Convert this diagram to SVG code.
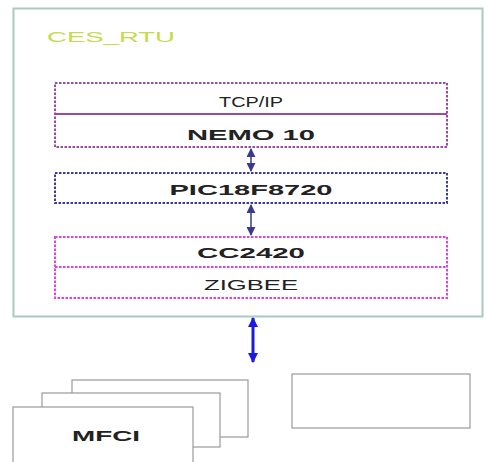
<svg xmlns="http://www.w3.org/2000/svg" width="489" height="462" viewBox="0 0 489 462">
<style>
text{font-family:"Liberation Sans",Arial,sans-serif;font-size:15.5px;text-anchor:middle;fill:#222}
.b{font-weight:bold}
.lay{fill:none;stroke-width:2;stroke-dasharray:2.5 1.5}
.card{fill:#fff;stroke:#999;stroke-width:1.2}
</style>
<defs>
<marker id="ah" viewBox="0 0 10 10" refX="9" refY="5" markerWidth="6" markerHeight="6" orient="auto-start-reverse"><path d="M0,0 L10,5 L0,10 z" fill="#3a3a8a"/></marker>
<marker id="bh" viewBox="0 0 10 10" refX="9" refY="5" markerWidth="3.5" markerHeight="3.5" orient="auto-start-reverse"><path d="M0,0 L10,5 L0,10 z" fill="#1a1ae0"/></marker>
</defs>
<rect width="489" height="462" fill="#fff"/>
<g id="ces_rtu">
<rect x="13.5" y="8.5" width="469" height="308" fill="#fff" stroke="#a9c9c1" stroke-width="2"/>
<text x="47" y="42" style="text-anchor:start;fill:#c2dc4a;font-size:14px" textLength="128" lengthAdjust="spacingAndGlyphs">CES_RTU</text>
</g>
<g id="tcpip_nemo">
<rect class="lay" x="55" y="83" width="392" height="64" stroke="#9a4aa0"/>
<line x1="55" y1="114" x2="447" y2="114" stroke="#9a4aa0" stroke-width="2"/>
<text x="251" y="107" textLength="64" lengthAdjust="spacingAndGlyphs">TCP/IP</text>
<text class="b" x="251" y="140" textLength="128" lengthAdjust="spacingAndGlyphs">NEMO 10</text>
</g>
<g id="pic">
<rect class="lay" x="55" y="173" width="392" height="30" stroke="#3a3a9a"/>
<text class="b" x="251" y="195" textLength="163" lengthAdjust="spacingAndGlyphs">PIC18F8720</text>
</g>
<g id="cc2420_zigbee">
<rect class="lay" x="55" y="237" width="392" height="61" stroke="#e040e0"/>
<line class="lay" x1="55" y1="267" x2="447" y2="267" stroke="#e040e0"/>
<text class="b" x="251" y="258" textLength="108" lengthAdjust="spacingAndGlyphs">CC2420</text>
<text x="251" y="290" textLength="94" lengthAdjust="spacingAndGlyphs">ZIGBEE</text>
</g>
<g id="mfci">
<rect class="card" x="72" y="380" width="176" height="57"/>
<rect class="card" x="42" y="393" width="178" height="54"/>
<rect class="card" x="13" y="407" width="180" height="56"/>
<text class="b" x="106" y="441" textLength="68" lengthAdjust="spacingAndGlyphs">MFCI</text>
</g>
<g id="device">
<rect class="card" x="292" y="374" width="178" height="54"/>
</g>
<g id="connectors">
<line x1="251" y1="149" x2="251" y2="171" stroke="#3a3a8a" stroke-width="1.5" marker-start="url(#ah)" marker-end="url(#ah)"/>
<line x1="251" y1="205" x2="251" y2="235" stroke="#3a3a8a" stroke-width="1.5" marker-start="url(#ah)" marker-end="url(#ah)"/>
<line x1="253" y1="318" x2="253" y2="362" stroke="#1a1ae0" stroke-width="3" marker-start="url(#bh)" marker-end="url(#bh)"/>
</g>
</svg>
